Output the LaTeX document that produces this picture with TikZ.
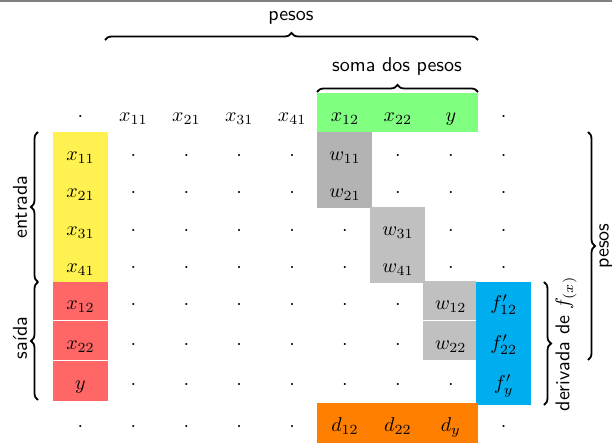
\documentclass[tikz,border=0pt]{standalone}
\usepackage{fontspec}
\usetikzlibrary{decorations.pathreplacing}
\definecolor{cellyellow}{RGB}{255,242,80}
\definecolor{cellred}{RGB}{255,102,102}
\definecolor{cellgreen}{RGB}{128,255,128}
\definecolor{cellgrayA}{RGB}{179,179,179}
\definecolor{cellgrayB}{RGB}{192,192,192}
\definecolor{cellblue}{RGB}{0,174,239}
\definecolor{cellorange}{RGB}{255,128,0}

\begin{document}
\begin{tikzpicture}[x=0.5pt,y=-0.5pt,
  cell/.style={anchor=base,inner sep=0pt},
  lbl/.style={font=\sffamily,inner sep=0pt},
  brc/.style={decorate,decoration={brace,amplitude=3.5pt},line width=0.9pt},
]
\useasboundingbox (0,0) rectangle (612,443);
\draw[gray,line width=1pt] (0,1.5) -- (612,1.5);

% coloured blocks behind the entries
\fill[cellgreen]  (317,93)  rectangle (478,132);
\fill[cellyellow] (53,132)  rectangle (108,282);
\fill[cellred]    (53,282)  rectangle (108,320);
\fill[cellred]    (53,321)  rectangle (108,360);
\fill[cellred]    (53,361)  rectangle (108,401);
\fill[cellgrayA]  (317,132) rectangle (372,208);
\fill[cellgrayB]  (370,207) rectangle (425,283);
\fill[cellgrayB]  (423,281) rectangle (476,320);
\fill[cellgrayB]  (423,321) rectangle (476,360);
\fill[cellblue]   (476,282) rectangle (531,405);
\fill[cellorange] (317,403) rectangle (478,443);

% matrix entries: row index / baseline / entries
\foreach \r/\y/\row in {
  0/122/{\cdot,x_{11},x_{21},x_{31},x_{41},x_{12},x_{22},y,\cdot},
  1/161/{x_{11},\cdot,\cdot,\cdot,\cdot,w_{11},\cdot,\cdot,\cdot},
  2/198/{x_{21},\cdot,\cdot,\cdot,\cdot,w_{21},\cdot,\cdot,\cdot},
  3/235.5/{x_{31},\cdot,\cdot,\cdot,\cdot,\cdot,w_{31},\cdot,\cdot},
  4/272.5/{x_{41},\cdot,\cdot,\cdot,\cdot,\cdot,w_{41},\cdot,\cdot},
  5/310/{x_{12},\cdot,\cdot,\cdot,\cdot,\cdot,\cdot,w_{12},f'_{12}},
  6/349.7/{x_{22},\cdot,\cdot,\cdot,\cdot,\cdot,\cdot,w_{22},f'_{22}},
  7/389.7/{y,\cdot,\cdot,\cdot,\cdot,\cdot,\cdot,\cdot,f'_{y}},
  8/431.7/{\cdot,\cdot,\cdot,\cdot,\cdot,d_{12},d_{22},d_{y},\cdot}}
{
  \foreach \e [count=\c from 0] in \row
    \node[cell] (m-\r-\c) at ({80.5+52.9*\c},\y) {$\e$};
}

% braces above the columns
\coordinate (pt-a) at (105,40);
\coordinate (pt-b) at (478,40);
\draw[brc] (pt-a) -- (pt-b);
\node[lbl] (pesos-top) at (291,18) {pesos};
\coordinate (st-a) at (317,92);
\coordinate (st-b) at (478,92);
\draw[brc] (st-a) -- (st-b);
\node[lbl] (soma) at (397,67) {soma dos pesos};

% braces on the left
\coordinate (en-a) at (38,282);
\coordinate (en-b) at (38,132);
\draw[brc] (en-a) -- (en-b);
\node[lbl,rotate=90] (entrada) at (20,207) {entrada};
\coordinate (sa-a) at (38,400);
\coordinate (sa-b) at (38,282);
\draw[brc] (sa-a) -- (sa-b);
\node[lbl,rotate=90] (saida) at (20,338) {saída};

% braces on the right
\coordinate (pr-a) at (588,132);
\coordinate (pr-b) at (588,360);
\draw[brc] (pr-a) -- (pr-b);
\node[lbl,rotate=90] (pesos-right) at (606,246) {pesos};
\coordinate (dv-a) at (544,282);
\coordinate (dv-b) at (544,405);
\draw[brc] (dv-a) -- (dv-b);
\node[lbl,rotate=90] (derivada) at (566,344) {derivada de $f_{(x)}$};
\end{tikzpicture}
\end{document}
